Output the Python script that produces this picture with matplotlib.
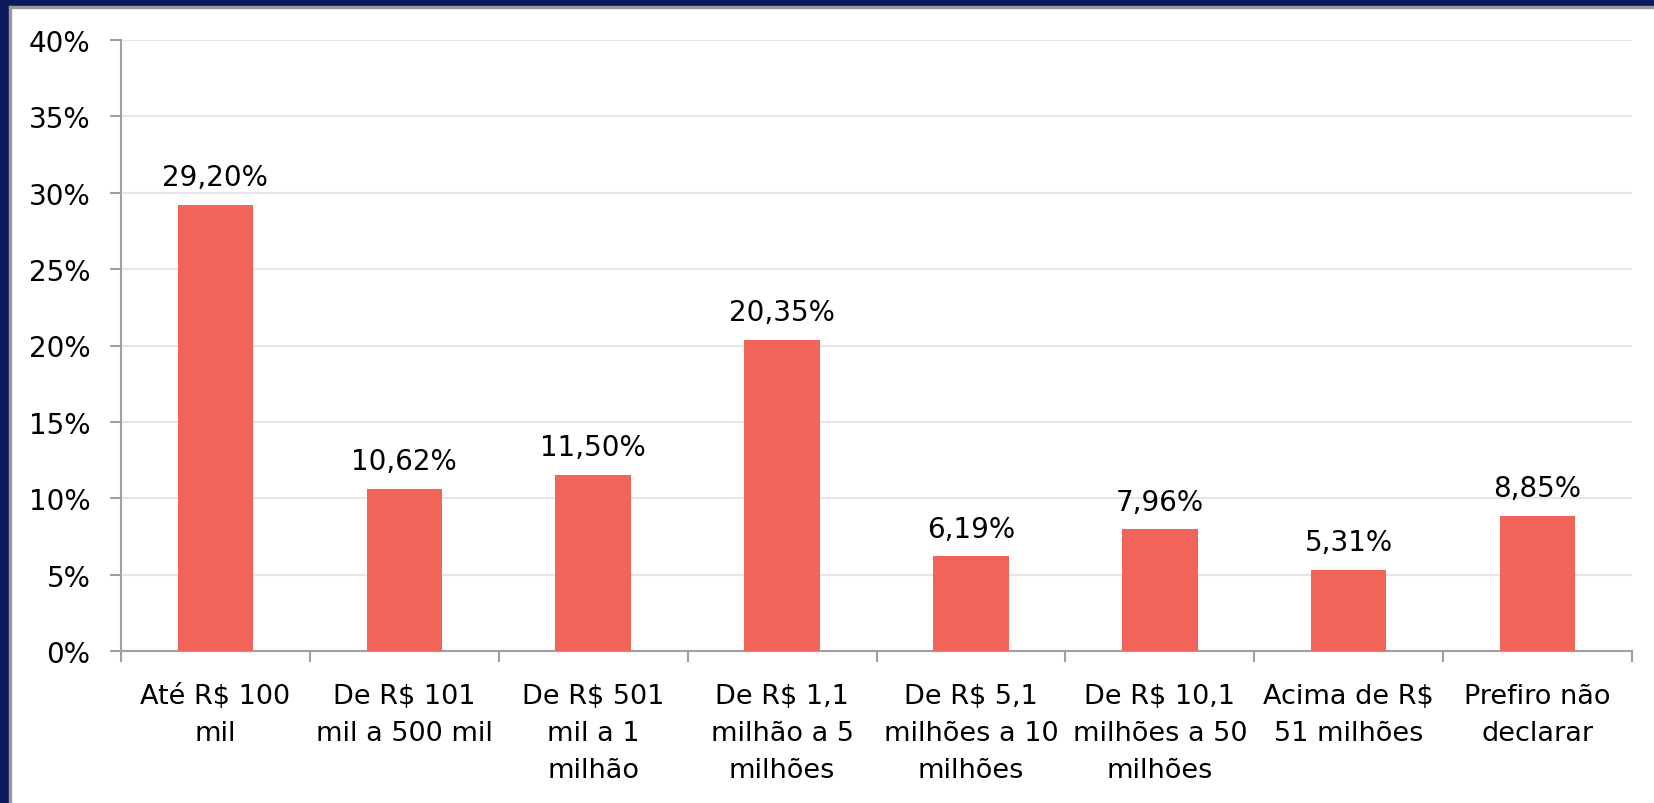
import matplotlib.pyplot as plt
from matplotlib.patches import Rectangle
from matplotlib.ticker import FuncFormatter

categories = ['Até R$ 100\nmil', 'De R$ 101\nmil a 500 mil', 'De R$ 501\nmil a 1\nmilhão',
              'De R$ 1,1\nmilhão a 5\nmilhões', 'De R$ 5,1\nmilhões a 10\nmilhões',
              'De R$ 10,1\nmilhões a 50\nmilhões', 'Acima de R$\n51 milhões', 'Prefiro não\ndeclarar']
values = [29.20, 10.62, 11.50, 20.35, 6.19, 7.96, 5.31, 8.85]
yticks = [0, 5, 10, 15, 20, 25, 30, 35, 40]

plt.rcParams['font.family'] = ['DejaVu Sans']

fig = plt.figure(figsize=(16.54, 8.04), dpi=100)
W, H = 1654, 804

# navy frame on the left and top, with a thin grey inner line
fig.patches.append(Rectangle((0, 0), 9 / W, 1, transform=fig.transFigure, color='#0b1a5a', zorder=0))
fig.patches.append(Rectangle((0, 1 - 7 / H), 1, 7 / H, transform=fig.transFigure, color='#0b1a5a', zorder=0))
fig.patches.append(Rectangle((9 / W, 0), 2 / W, 1 - 7 / H, transform=fig.transFigure, color='#9a9a9a', zorder=0))
fig.patches.append(Rectangle((9 / W, 1 - 9 / H), 1, 2 / H, transform=fig.transFigure, color='#9a9a9a', zorder=0))

ax = fig.add_axes([121 / W, 152 / H, (1632 - 121) / W, (763 - 152) / H])

x = range(len(categories))
bars = ax.bar(x, values, width=0.4, color='#f26459', zorder=3)

for b, v in zip(bars, values):
    ax.annotate(f'{v:.2f}%'.replace('.', ','), (b.get_x() + b.get_width() / 2, v),
                xytext=(0, 10), textcoords='offset points', ha='center', va='bottom',
                fontsize=20)

ax.set_xlim(-0.5, len(categories) - 0.5)
ax.set_ylim(0, 40)
ax.set_yticks(yticks)
ax.yaxis.set_major_formatter(FuncFormatter(lambda v, p: f'{v:.0f}%'))
ax.set_xticks(x)
ax.set_xticklabels(categories, fontsize=19.5, linespacing=1.55)
ax.set_xticks([i - 0.5 for i in range(len(categories) + 1)], minor=True)
ax.tick_params(axis='x', which='major', length=0, pad=23)
ax.tick_params(axis='x', which='minor', length=8, width=1.5, color='#a0a0a0', direction='out')
ax.tick_params(axis='y', length=8, width=1.5, color='#a0a0a0', labelsize=20, pad=14)

ax.grid(axis='y', color='#e6e6e6', linewidth=1.5, zorder=0)
for s in ['top', 'right']:
    ax.spines[s].set_visible(False)
for s in ['left', 'bottom']:
    ax.spines[s].set_color('#a0a0a0')
    ax.spines[s].set_linewidth(1.5)

fig.savefig('out.png', dpi=100)
